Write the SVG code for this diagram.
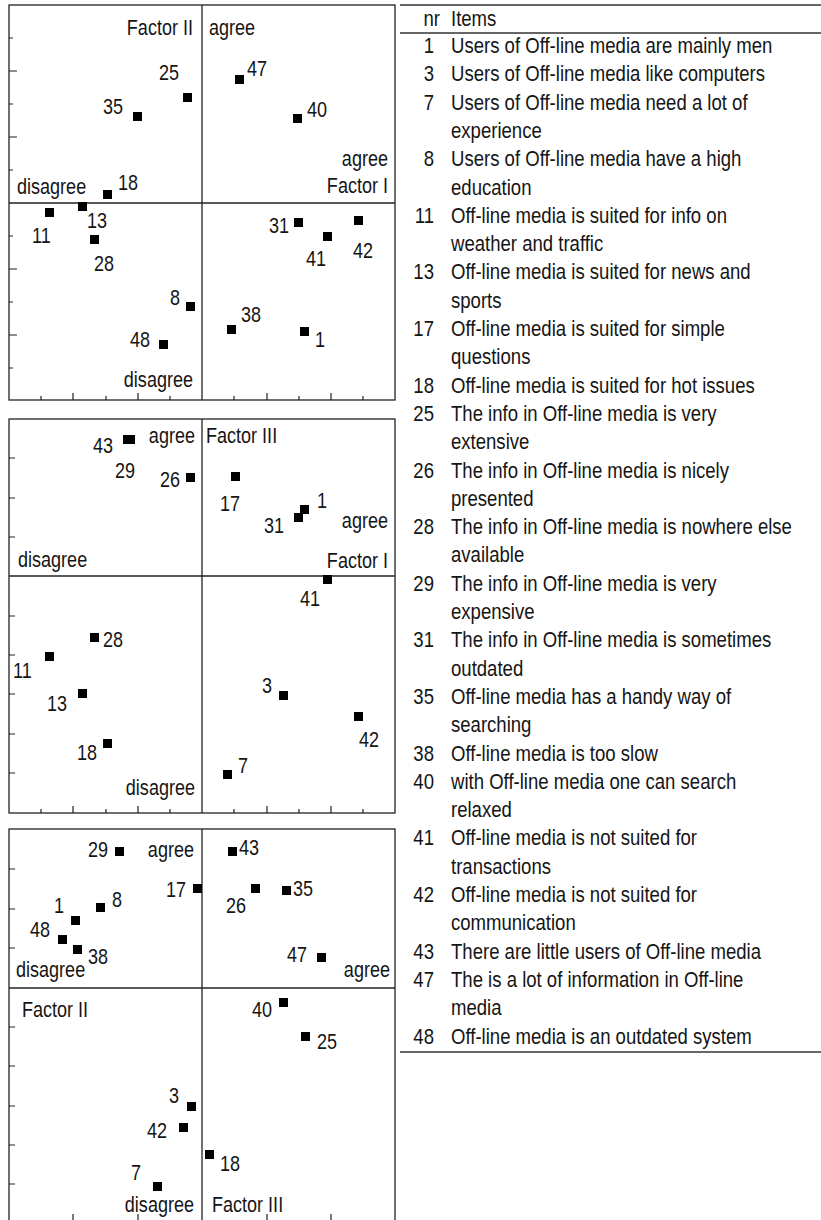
<svg xmlns="http://www.w3.org/2000/svg" width="821" height="1220" viewBox="0 0 821 1220">
  <style>
    .frame { fill: none; stroke: #222; stroke-width: 1.3; }
    .axis { stroke: #222; stroke-width: 1.3; }
    .tick { stroke: #222; stroke-width: 1.2; }
    .rule { stroke: #333; stroke-width: 1.3; }
    .lbl { font-family: "Liberation Sans", Arial, sans-serif; font-size: 22px; fill: #151515; }
    .tb { font-family: "Liberation Sans", Arial, sans-serif; font-size: 22.5px; fill: #151515; }
    .end { text-anchor: end; }
    .mk { fill: #000; }
  </style>
  <defs>
    <rect id="m" class="mk" width="9" height="9"/>
  </defs>
  <rect width="821" height="1220" fill="#fff"/>

  <!-- Plot 1: Factor I (horizontal) x Factor II (vertical) -->
  <g id="plot1">
    <rect class="frame" x="9" y="5" width="386" height="395"/>
    <line class="axis" x1="202" y1="5" x2="202" y2="400"/>
    <line class="axis" x1="9" y1="203" x2="395" y2="203"/>
    <path class="tick" d="M9 38h4M9 71h8M9 104h4M9 137h8M9 170h4M9 236h4M9 269h8M9 302h4M9 335h8M9 368h4
      M41 400v-4M73 400v-7M106 400v-4M138 400v-7M170 400v-4M234 400v-4M267 400v-7M299 400v-4M331 400v-7M363 400v-4"/>
    <text class="lbl end" transform="translate(193 35) scale(.82 1)">Factor II</text>
    <text class="lbl" transform="translate(209 35) scale(.82 1)">agree</text>
    <text class="lbl end" transform="translate(388 166) scale(.82 1)">agree</text>
    <text class="lbl end" transform="translate(388 193) scale(.82 1)">Factor I</text>
    <text class="lbl" transform="translate(17 194) scale(.82 1)">disagree</text>
    <text class="lbl end" transform="translate(193 387) scale(.82 1)">disagree</text>
    <g id="p1-25"><use href="#m" x="183" y="93"/><text class="lbl" transform="translate(159 80) scale(.82 1)">25</text></g>
    <g id="p1-35"><use href="#m" x="133" y="112"/><text class="lbl" transform="translate(103 114) scale(.82 1)">35</text></g>
    <g id="p1-47"><use href="#m" x="235" y="75"/><text class="lbl" transform="translate(247 76) scale(.82 1)">47</text></g>
    <g id="p1-40"><use href="#m" x="293" y="114"/><text class="lbl" transform="translate(307 117) scale(.82 1)">40</text></g>
    <g id="p1-18"><use href="#m" x="103" y="190"/><text class="lbl" transform="translate(118 190) scale(.82 1)">18</text></g>
    <g id="p1-11"><use href="#m" x="45" y="208"/><text class="lbl" transform="translate(32 243) scale(.82 1)">11</text></g>
    <g id="p1-13"><use href="#m" x="78" y="202"/><text class="lbl" transform="translate(87 228) scale(.82 1)">13</text></g>
    <g id="p1-28"><use href="#m" x="90" y="235"/><text class="lbl" transform="translate(94 271) scale(.82 1)">28</text></g>
    <g id="p1-8"><use href="#m" x="186" y="302"/><text class="lbl" transform="translate(170 305) scale(.82 1)">8</text></g>
    <g id="p1-48"><use href="#m" x="159" y="340"/><text class="lbl" transform="translate(130 347) scale(.82 1)">48</text></g>
    <g id="p1-31"><use href="#m" x="294" y="218"/><text class="lbl" transform="translate(269 233) scale(.82 1)">31</text></g>
    <g id="p1-42"><use href="#m" x="354" y="216"/><text class="lbl" transform="translate(353 258) scale(.82 1)">42</text></g>
    <g id="p1-41"><use href="#m" x="323" y="232"/><text class="lbl" transform="translate(306 266) scale(.82 1)">41</text></g>
    <g id="p1-38"><use href="#m" x="227" y="325"/><text class="lbl" transform="translate(241 322) scale(.82 1)">38</text></g>
    <g id="p1-1"><use href="#m" x="300" y="327"/><text class="lbl" transform="translate(315 347) scale(.82 1)">1</text></g>
  </g>

  <!-- Plot 2: Factor I (horizontal) x Factor III (vertical) -->
  <g id="plot2">
    <rect class="frame" x="9" y="419" width="386" height="394"/>
    <line class="axis" x1="202" y1="419" x2="202" y2="813"/>
    <line class="axis" x1="9" y1="576" x2="395" y2="576"/>
    <path class="tick" d="M9 458h6M9 498h6M9 537h6M9 616h6M9 655h6M9 694h6M9 734h6M9 773h6
      M41 813v-4M73 813v-7M106 813v-4M138 813v-7M170 813v-4M234 813v-4M267 813v-7M299 813v-4M331 813v-7M363 813v-4"/>
    <text class="lbl end" transform="translate(195 443) scale(.82 1)">agree</text>
    <text class="lbl" transform="translate(206 443) scale(.82 1)">Factor III</text>
    <text class="lbl end" transform="translate(388 528) scale(.82 1)">agree</text>
    <text class="lbl" transform="translate(18 567) scale(.82 1)">disagree</text>
    <text class="lbl end" transform="translate(388 568) scale(.82 1)">Factor I</text>
    <text class="lbl end" transform="translate(195 795) scale(.82 1)">disagree</text>
    <g id="p2-43"><use href="#m" x="126" y="435"/><text class="lbl" transform="translate(93 453) scale(.82 1)">43</text></g>
    <g id="p2-29"><use href="#m" x="123" y="435"/><text class="lbl" transform="translate(115 478) scale(.82 1)">29</text></g>
    <g id="p2-26"><use href="#m" x="186" y="473"/><text class="lbl" transform="translate(160 487) scale(.82 1)">26</text></g>
    <g id="p2-17"><use href="#m" x="231" y="472"/><text class="lbl" transform="translate(220 511) scale(.82 1)">17</text></g>
    <g id="p2-1"><use href="#m" x="300" y="505"/><text class="lbl" transform="translate(317 508) scale(.82 1)">1</text></g>
    <g id="p2-31"><use href="#m" x="294" y="513"/><text class="lbl" transform="translate(264 533) scale(.82 1)">31</text></g>
    <g id="p2-41"><use href="#m" x="323" y="575"/><text class="lbl" transform="translate(300 606) scale(.82 1)">41</text></g>
    <g id="p2-28"><use href="#m" x="90" y="633"/><text class="lbl" transform="translate(103 647) scale(.82 1)">28</text></g>
    <g id="p2-11"><use href="#m" x="45" y="652"/><text class="lbl" transform="translate(13 678) scale(.82 1)">11</text></g>
    <g id="p2-13"><use href="#m" x="78" y="689"/><text class="lbl" transform="translate(47 711) scale(.82 1)">13</text></g>
    <g id="p2-18"><use href="#m" x="103" y="739"/><text class="lbl" transform="translate(77 760) scale(.82 1)">18</text></g>
    <g id="p2-3"><use href="#m" x="279" y="691"/><text class="lbl" transform="translate(262 693) scale(.82 1)">3</text></g>
    <g id="p2-42"><use href="#m" x="354" y="712"/><text class="lbl" transform="translate(359 747) scale(.82 1)">42</text></g>
    <g id="p2-7"><use href="#m" x="223" y="770"/><text class="lbl" transform="translate(238 773) scale(.82 1)">7</text></g>
  </g>

  <!-- Plot 3: Factor III (horizontal) x Factor II (vertical) -->
  <g id="plot3">
    <rect class="frame" x="9" y="829" width="386" height="395"/>
    <line class="axis" x1="202" y1="829" x2="202" y2="1224"/>
    <line class="axis" x1="9" y1="988" x2="395" y2="988"/>
    <path class="tick" d="M9 869h6M9 909h6M9 948h6M9 1027h6M9 1066h6M9 1106h6M9 1145h6M9 1184h6
      M41 1224v-4M73 1224v-10M106 1224v-4M138 1224v-10M170 1224v-4M234 1224v-4M267 1224v-10M299 1224v-4M331 1224v-10M363 1224v-4"/>
    <text class="lbl end" transform="translate(194 857) scale(.82 1)">agree</text>
    <text class="lbl" transform="translate(16 977) scale(.82 1)">disagree</text>
    <text class="lbl end" transform="translate(390 977) scale(.82 1)">agree</text>
    <text class="lbl" transform="translate(22 1017) scale(.82 1)">Factor II</text>
    <text class="lbl end" transform="translate(194 1212) scale(.82 1)">disagree</text>
    <text class="lbl" transform="translate(212 1212) scale(.82 1)">Factor III</text>
    <g id="p3-29"><use href="#m" x="115" y="847"/><text class="lbl" transform="translate(88 857) scale(.82 1)">29</text></g>
    <g id="p3-43"><use href="#m" x="228" y="847"/><text class="lbl" transform="translate(239 855) scale(.82 1)">43</text></g>
    <g id="p3-17"><use href="#m" x="193" y="884"/><text class="lbl" transform="translate(166 897) scale(.82 1)">17</text></g>
    <g id="p3-26"><use href="#m" x="251" y="884"/><text class="lbl" transform="translate(226 913) scale(.82 1)">26</text></g>
    <g id="p3-35"><use href="#m" x="282" y="886"/><text class="lbl" transform="translate(293 896) scale(.82 1)">35</text></g>
    <g id="p3-1"><use href="#m" x="71" y="916"/><text class="lbl" transform="translate(54 913) scale(.82 1)">1</text></g>
    <g id="p3-8"><use href="#m" x="96" y="903"/><text class="lbl" transform="translate(112 907) scale(.82 1)">8</text></g>
    <g id="p3-48"><use href="#m" x="58" y="935"/><text class="lbl" transform="translate(30 937) scale(.82 1)">48</text></g>
    <g id="p3-38"><use href="#m" x="73" y="945"/><text class="lbl" transform="translate(88 964) scale(.82 1)">38</text></g>
    <g id="p3-47"><use href="#m" x="317" y="953"/><text class="lbl" transform="translate(287 962) scale(.82 1)">47</text></g>
    <g id="p3-40"><use href="#m" x="279" y="998"/><text class="lbl" transform="translate(252 1017) scale(.82 1)">40</text></g>
    <g id="p3-25"><use href="#m" x="301" y="1032"/><text class="lbl" transform="translate(317 1049) scale(.82 1)">25</text></g>
    <g id="p3-3"><use href="#m" x="187" y="1102"/><text class="lbl" transform="translate(169 1103) scale(.82 1)">3</text></g>
    <g id="p3-42"><use href="#m" x="179" y="1123"/><text class="lbl" transform="translate(147 1138) scale(.82 1)">42</text></g>
    <g id="p3-18"><use href="#m" x="205" y="1150"/><text class="lbl" transform="translate(220 1171) scale(.82 1)">18</text></g>
    <g id="p3-7"><use href="#m" x="153" y="1182"/><text class="lbl" transform="translate(131 1180) scale(.82 1)">7</text></g>
  </g>

  <!-- Item legend table: numbers right-aligned, statements left-aligned -->
  <g id="legend">
    <line class="rule" x1="400" y1="5" x2="821" y2="5"/>
    <line class="rule" x1="400" y1="33" x2="821" y2="33"/>
    <text class="tb end" transform="translate(440 26) scale(.825 1)">nr</text>
    <text class="tb" transform="translate(451 26) scale(.825 1)">Items</text>
    <text class="tb end" transform="translate(434 53) scale(.825 1)">1</text><text class="tb" transform="translate(451 53) scale(.825 1)">Users of Off-line media are mainly men</text>
    <text class="tb end" transform="translate(434 81.3) scale(.825 1)">3</text><text class="tb" transform="translate(451 81.3) scale(.825 1)">Users of Off-line media like computers</text>
    <text class="tb end" transform="translate(434 109.6) scale(.825 1)">7</text><text class="tb" transform="translate(451 109.6) scale(.825 1)">Users of Off-line media need a lot of</text>
    <text class="tb" transform="translate(451 137.9) scale(.825 1)">experience</text>
    <text class="tb end" transform="translate(434 166.2) scale(.825 1)">8</text><text class="tb" transform="translate(451 166.2) scale(.825 1)">Users of Off-line media have a high</text>
    <text class="tb" transform="translate(451 194.5) scale(.825 1)">education</text>
    <text class="tb end" transform="translate(434 222.8) scale(.825 1)">11</text><text class="tb" transform="translate(451 222.8) scale(.825 1)">Off-line media is suited for info on</text>
    <text class="tb" transform="translate(451 251.1) scale(.825 1)">weather and traffic</text>
    <text class="tb end" transform="translate(434 279.4) scale(.825 1)">13</text><text class="tb" transform="translate(451 279.4) scale(.825 1)">Off-line media is suited for news and</text>
    <text class="tb" transform="translate(451 307.7) scale(.825 1)">sports</text>
    <text class="tb end" transform="translate(434 336) scale(.825 1)">17</text><text class="tb" transform="translate(451 336) scale(.825 1)">Off-line media is suited for simple</text>
    <text class="tb" transform="translate(451 364.3) scale(.825 1)">questions</text>
    <text class="tb end" transform="translate(434 392.6) scale(.825 1)">18</text><text class="tb" transform="translate(451 392.6) scale(.825 1)">Off-line media is suited for hot issues</text>
    <text class="tb end" transform="translate(434 420.9) scale(.825 1)">25</text><text class="tb" transform="translate(451 420.9) scale(.825 1)">The info in Off-line media is very</text>
    <text class="tb" transform="translate(451 449.2) scale(.825 1)">extensive</text>
    <text class="tb end" transform="translate(434 477.5) scale(.825 1)">26</text><text class="tb" transform="translate(451 477.5) scale(.825 1)">The info in Off-line media is nicely</text>
    <text class="tb" transform="translate(451 505.8) scale(.825 1)">presented</text>
    <text class="tb end" transform="translate(434 534.1) scale(.825 1)">28</text><text class="tb" transform="translate(451 534.1) scale(.825 1)">The info in Off-line media is nowhere else</text>
    <text class="tb" transform="translate(451 562.4) scale(.825 1)">available</text>
    <text class="tb end" transform="translate(434 590.7) scale(.825 1)">29</text><text class="tb" transform="translate(451 590.7) scale(.825 1)">The info in Off-line media is very</text>
    <text class="tb" transform="translate(451 619) scale(.825 1)">expensive</text>
    <text class="tb end" transform="translate(434 647.3) scale(.825 1)">31</text><text class="tb" transform="translate(451 647.3) scale(.825 1)">The info in Off-line media is sometimes</text>
    <text class="tb" transform="translate(451 675.6) scale(.825 1)">outdated</text>
    <text class="tb end" transform="translate(434 703.9) scale(.825 1)">35</text><text class="tb" transform="translate(451 703.9) scale(.825 1)">Off-line media has a handy way of</text>
    <text class="tb" transform="translate(451 732.2) scale(.825 1)">searching</text>
    <text class="tb end" transform="translate(434 760.5) scale(.825 1)">38</text><text class="tb" transform="translate(451 760.5) scale(.825 1)">Off-line media is too slow</text>
    <text class="tb end" transform="translate(434 788.8) scale(.825 1)">40</text><text class="tb" transform="translate(451 788.8) scale(.825 1)">with Off-line media one can search</text>
    <text class="tb" transform="translate(451 817.1) scale(.825 1)">relaxed</text>
    <text class="tb end" transform="translate(434 845.4) scale(.825 1)">41</text><text class="tb" transform="translate(451 845.4) scale(.825 1)">Off-line media is not suited for</text>
    <text class="tb" transform="translate(451 873.7) scale(.825 1)">transactions</text>
    <text class="tb end" transform="translate(434 902) scale(.825 1)">42</text><text class="tb" transform="translate(451 902) scale(.825 1)">Off-line media is not suited for</text>
    <text class="tb" transform="translate(451 930.3) scale(.825 1)">communication</text>
    <text class="tb end" transform="translate(434 958.6) scale(.825 1)">43</text><text class="tb" transform="translate(451 958.6) scale(.825 1)">There are little users of Off-line media</text>
    <text class="tb end" transform="translate(434 986.9) scale(.825 1)">47</text><text class="tb" transform="translate(451 986.9) scale(.825 1)">The is a lot of information in Off-line</text>
    <text class="tb" transform="translate(451 1015.2) scale(.825 1)">media</text>
    <text class="tb end" transform="translate(434 1043.5) scale(.825 1)">48</text><text class="tb" transform="translate(451 1043.5) scale(.825 1)">Off-line media is an outdated system</text>
    <line class="rule" x1="400" y1="1052" x2="821" y2="1052"/>
  </g>
</svg>
